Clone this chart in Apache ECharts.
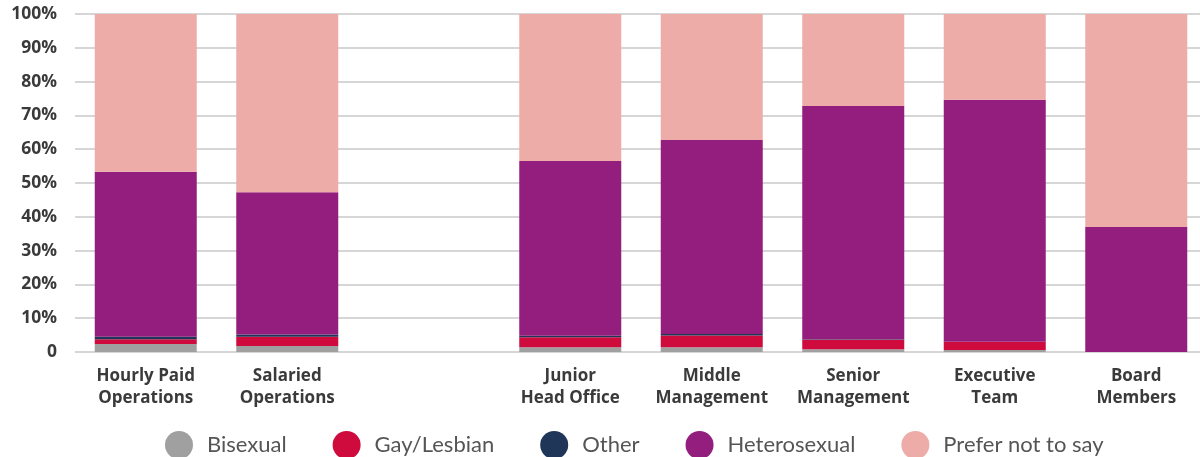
<!DOCTYPE html>
<html>
<head>
<meta charset="utf-8">
<script src="https://cdn.jsdelivr.net/npm/echarts@6/dist/echarts.min.js"></script>
<style>
  html, body { margin: 0; padding: 0; background: #fff; }
  #chart { width: 1200px; height: 457px; }
</style>
</head>
<body>
<div id="chart"></div>
<script>
// categories (empty one is the gap between the two groups)
var categories = ['Hourly Paid\nOperations', 'Salaried\nOperations', '', 'Junior\nHead Office', 'Middle\nManagement', 'Senior\nManagement', 'Executive\nTeam', 'Board\nMembers'];

var bisexual     = [2.4, 1.8, '-', 1.4, 1.4, 0.8, 0.6, 0];
var gayLesbian   = [1.4, 2.7, '-', 3.0, 3.5, 2.8, 2.4, 0];
var other        = [0.7, 0.7, '-', 0.4, 0.4, 0.2, 0, 0];
var heterosexual = [48.8, 42.1, '-', 51.7, 57.4, 69.0, 71.6, 37.0];
var preferNot    = [46.7, 52.7, '-', 43.5, 37.3, 27.2, 25.4, 63.0];

var seriesNames = ['Bisexual', 'Gay/Lesbian', 'Other', 'Heterosexual', 'Prefer not to say'];
var seriesData = [bisexual, gayLesbian, other, heterosexual, preferNot];
var colors = ['#a0a0a0', '#cf0a3c', '#1f3658', '#931e7e', '#edaca8'];

var chart = echarts.init(document.getElementById('chart'));

var mySeries = [];
for (var i = 0; i < seriesNames.length; i++) {
    mySeries.push({
        name: seriesNames[i],
        type: 'bar',
        stack: 'total',
        barWidth: 102,
        itemStyle: { color: colors[i] },
        emphasis: { disabled: true },
        data: seriesData[i]
    });
}

var option = {
    animation: false,
    color: colors,
    grid: {
        left: 75,
        width: 1132,
        top: 14,
        bottom: 105,
        outerBoundsMode: 'none'
    },
    legend: {
        data: seriesNames,
        left: 160,
        top: 426,
        icon: 'circle',
        itemWidth: 28,
        itemHeight: 28,
        itemGap: 46,
        textStyle: {
            fontFamily: 'Lato',
            fontSize: 22,
            color: '#555',
            padding: [0, 0, 0, 9]
        }
    },
    xAxis: {
        type: 'category',
        data: categories,
        axisTick: { show: false },
        axisLine: { show: false },
        axisLabel: {
            interval: 0,
            margin: 13,
            fontFamily: 'Open Sans',
            fontWeight: 'bold',
            fontSize: 17,
            lineHeight: 22,
            color: '#3a3a3a'
        }
    },
    yAxis: {
        type: 'value',
        min: 0,
        max: 100,
        interval: 10,
        axisLine: { show: false },
        axisTick: { show: false },
        splitLine: { lineStyle: { color: '#d6d6d6', width: 2 } },
        axisLabel: {
            margin: 18,
            fontFamily: 'Open Sans',
            fontWeight: 'bold',
            fontSize: 17.5,
            color: '#3a3a3a',
            formatter: function (v) { return v === 0 ? '0' : v + '%'; }
        }
    },
    series: mySeries
};

chart.setOption(option);
</script>
</body>
</html>
